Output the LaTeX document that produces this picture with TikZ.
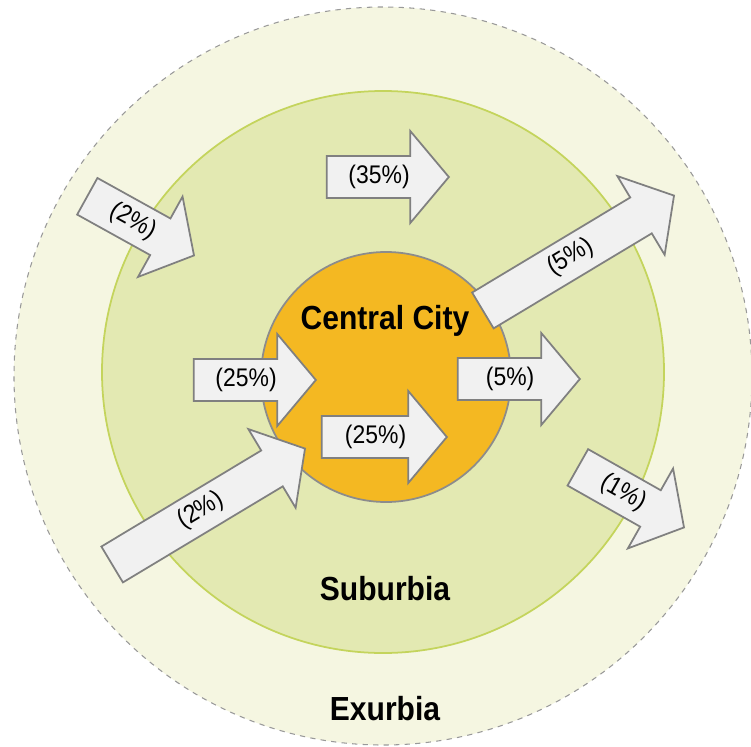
\documentclass[tikz,border=0pt]{standalone}
\usepackage{fontspec}
\setmainfont{Liberation Sans}[FakeStretch=0.9]
\usepackage{tikz}
\usetikzlibrary{shapes.arrows}
\definecolor{exurbcol}{RGB}{245,246,225}
\definecolor{suburbcol}{RGB}{227,233,178}
\definecolor{suburbline}{RGB}{196,212,92}
\definecolor{citycol}{RGB}{244,184,34}
\definecolor{flowcol}{RGB}{241,241,241}
\definecolor{flowline}{RGB}{128,128,128}
\tikzset{
    zone/.style={circle, inner sep=0pt},
    zone label/.style={font=\fontsize{19}{22}\selectfont\bfseries, text=black},
    flow/.style={single arrow, draw=flowline, fill=flowcol, line width=1pt,
        single arrow head extend=0.5cm, single arrow tip angle=100,
        minimum height=2.44cm, text height=10pt, text depth=3pt,
        inner ysep=4.9pt, inner xsep=0pt, anchor=tip,
        font=\fontsize{14.5}{16}\selectfont, text=black}
}
\begin{document}
\begin{tikzpicture}
    \useasboundingbox (-7.72,-7.38) rectangle (7.30,7.54);

    % Zones
    \node[zone, fill=exurbcol, draw=black!40, dashed, line width=0.6pt, minimum size=14.76cm] (exurbia) at (-0.06,0.02) {};
    \node[zone, fill=suburbcol, draw=suburbline, line width=1pt, minimum size=11.24cm] (suburbia) at (-0.06,0.10) {};
    \node[zone, fill=citycol, draw=black!45, line width=1pt, minimum size=5cm] (city) at (0,0) {};

    % Zone names
    \node[zone label] (citylabel) at (-0.02,1.12) {Central City};
    \node[zone label] (suburblabel) at (-0.02,-4.24) {Suburbia};
    \node[zone label] (exurblabel) at (-0.02,-6.64) {Exurbia};

    % Flows
    \node[flow] (f35) at (1.28,4.0) {(35\%)};
    \node[flow] (f25a) at (-1.38,-0.06) {(25\%)};
    \node[flow, minimum height=2.5cm] (f25b) at (1.24,-1.2) {(25\%)};
    \node[flow] (f5a) at (3.9,-0.04) {(5\%)};
    \node[flow, rotate=-29] (f2a) at (-3.82,2.42) {(2\%)};
    \node[flow, rotate=31, minimum height=4.5cm] (f2b) at (-1.6,-1.42) {(2\%)};
    \node[flow, rotate=31, minimum height=4.46cm] (f5b) at (5.78,3.64) {(5\%)};
    \node[flow, rotate=-29.5] (f1) at (5.98,-3.02) {(1\%)};

\end{tikzpicture}
\end{document}
